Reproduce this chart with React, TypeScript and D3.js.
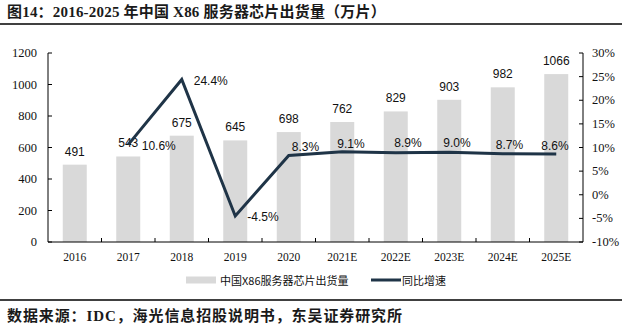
import React from "react";
import * as d3 from "d3";

const categories = ["2016", "2017", "2018", "2019", "2020", "2021E", "2022E", "2023E", "2024E", "2025E"];
const shipments = [491, 543, 675, 645, 698, 762, 829, 903, 982, 1066];
const growth: (number | null)[] = [null, 10.6, 24.4, -4.5, 8.3, 9.1, 8.9, 9.0, 8.7, 8.6];
const leftTicks = [0, 200, 400, 600, 800, 1000, 1200];
const rightTicks = [-10, -5, 0, 5, 10, 15, 20, 25, 30];
// label placement offsets for growth labels (layout only)
const growthLabelDx = [0, 13.5, 12, 12, 3, -5, -1.5, -6, -7, -15];
const growthLabelDy = [0, 1, 1.5, 1, -8.5, -8, -9.5, -9, -8.5, -8];

const W = 622, H = 326;
const plotL = 48, plotR = 583, plotT = 53, plotB = 242;
const BAR = "#d9d9d9";
const LINE = "#1f3447";
const SANS = "'Liberation Sans', Arial, sans-serif";
const SERIF = "'Liberation Serif', 'Times New Roman', serif";
const CJK = "'Liberation Serif', 'Noto Sans CJK SC', serif";

export default function App() {
  const x = d3.scaleBand<string>().domain(categories).range([plotL, plotR]).paddingInner(0).paddingOuter(0);
  const yL = d3.scaleLinear().domain([0, 1200]).range([plotB, plotT]);
  const yR = d3.scaleLinear().domain([-10, 30]).range([plotB, plotT]);
  const bw = 24;
  const cx = (c: string) => (x(c) as number) + x.bandwidth() / 2;

  const pts = categories
    .map((c, i) => ({ c, v: growth[i], i }))
    .filter((d) => d.v !== null) as { c: string; v: number; i: number }[];
  const line = d3
    .line<{ c: string; v: number }>()
    .x((d) => cx(d.c))
    .y((d) => yR(d.v));

  return (
    <svg width={W} height={H} style={{ position: "absolute", left: 0, top: 0, background: "#fff" }}>
      <rect x={0} y={0} width={W} height={H} fill="#fff" />
      <text x={7} y={12} dominantBaseline="central" fontFamily={CJK} fontWeight="bold" fontSize={15} letterSpacing={0.2} fill="#1a1a1a">
        图14：2016-2025 年中国 X86 服务器芯片出货量（万片）
      </text>
      <line x1={0} x2={W} y1={24} y2={24} stroke="#000" strokeWidth={1.5} />

      {categories.map((c, i) => (
        <rect key={c} x={cx(c) - bw / 2} y={yL(shipments[i])} width={bw} height={plotB - yL(shipments[i])} fill={BAR} />
      ))}
      {categories.map((c, i) => (
        <text key={"bl" + c} x={cx(c)} y={yL(shipments[i]) - 13} textAnchor="middle" dominantBaseline="central" fontFamily={SANS} fontSize={12} fill="#111">
          {shipments[i]}
        </text>
      ))}

      {/* axes */}
      <line x1={plotL} x2={plotL} y1={plotT} y2={plotB} stroke="#000" />
      <line x1={plotR} x2={plotR} y1={plotT} y2={plotB} stroke="#000" />
      <line x1={plotL} x2={plotR} y1={plotB} y2={plotB} stroke="#000" />
      {leftTicks.map((t) => (
        <g key={"lt" + t}>
          <line x1={plotL} x2={plotL + 4} y1={yL(t)} y2={yL(t)} stroke="#000" />
          <text x={37} y={yL(t)} textAnchor="end" dominantBaseline="central" fontFamily={SERIF} fontSize={12.5} fill="#111">
            {t}
          </text>
        </g>
      ))}
      {rightTicks.map((t) => (
        <g key={"rt" + t}>
          <line x1={plotR - 4} x2={plotR} y1={yR(t)} y2={yR(t)} stroke="#000" />
          <text x={592} y={yR(t)} textAnchor="start" dominantBaseline="central" fontFamily={SERIF} fontSize={12.5} fill="#111">
            {t}%
          </text>
        </g>
      ))}
      {categories.map((c, i) => (
        <g key={"xt" + c}>
          {i > 0 && <line x1={x(c) as number} x2={x(c) as number} y1={plotB - 4} y2={plotB} stroke="#000" />}
          <text x={cx(c)} y={256.5} textAnchor="middle" dominantBaseline="central" fontFamily={SERIF} fontSize={11.5} fill="#111">
            {c}
          </text>
        </g>
      ))}

      <path d={line(pts) || ""} fill="none" stroke={LINE} strokeWidth={3} strokeLinejoin="miter" />
      {pts.map((d) => (
        <text
          key={"gl" + d.c}
          x={cx(d.c) + growthLabelDx[d.i]}
          y={yR(d.v) + growthLabelDy[d.i]}
          textAnchor="start"
          dominantBaseline="central"
          fontFamily={SANS}
          fontSize={12}
          fill="#111"
        >
          {d.v.toFixed(1)}%
        </text>
      ))}

      {/* legend */}
      <rect x={186} y={276.5} width={30} height={7} fill={BAR} />
      <text x={220} y={280} dominantBaseline="central" fontFamily="'Noto Sans CJK SC', sans-serif" fontSize={11} fill="#111">
        中国X86服务器芯片出货量
      </text>
      <line x1={371} x2={401} y1={280} y2={280} stroke={LINE} strokeWidth={3} />
      <text x={402} y={280} dominantBaseline="central" fontFamily="'Noto Sans CJK SC', sans-serif" fontSize={11} fill="#111">
        同比增速
      </text>

      <line x1={0} x2={W} y1={300} y2={300} stroke="#000" strokeWidth={1.5} />
      <text x={7} y={315.5} dominantBaseline="central" fontFamily={CJK} fontWeight="bold" fontSize={15} letterSpacing={0.9} fill="#1a1a1a">
        数据来源：IDC，海光信息招股说明书，东吴证券研究所
      </text>
    </svg>
  );
}
